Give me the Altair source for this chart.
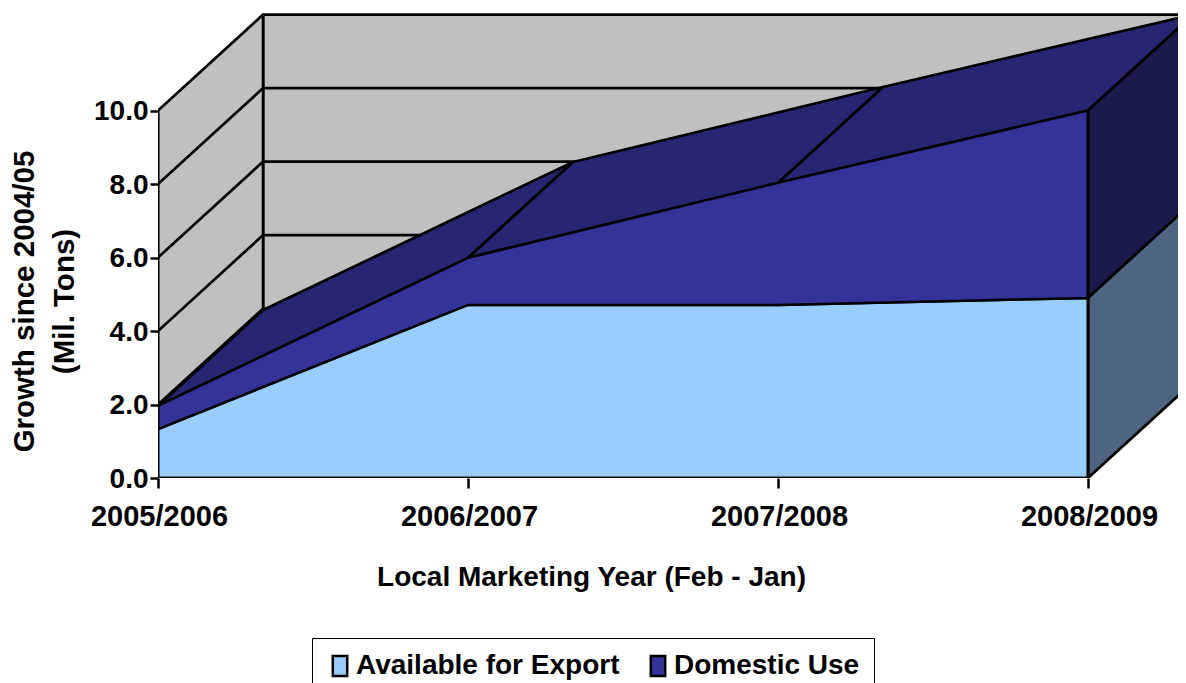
import altair as alt
import pandas as pd

years = ["2005/2006", "2006/2007", "2007/2008", "2008/2009"]
export = [1.33, 4.71, 4.71, 4.90]
total = [1.96, 5.99, 8.03, 10.0]
domestic_label = "Domestic Use"
export_label = "Available for Export"
y_ticks = [0, 2, 4, 6, 8, 10]
DX, DY = 0.339, 2.61
FONT = "Liberation Sans"
FS = 28


def poly(points, fill):
    df = pd.DataFrame(points, columns=["x", "y"]).assign(o=range(len(points)))
    return (
        alt.Chart(df)
        .mark_line(interpolate="linear-closed", fill=fill, stroke="black", strokeWidth=2.7,
                   clip=True, strokeJoin="round")
        .encode(x=alt.X("x:Q", scale=xs), y=alt.Y("y:Q", scale=ys), order="o:Q")
    )


def seg(points, width=2.7):
    df = pd.DataFrame(points, columns=["x", "y"]).assign(o=range(len(points)))
    return (
        alt.Chart(df)
        .mark_line(stroke="black", strokeWidth=width, clip=True)
        .encode(x=alt.X("x:Q", scale=xs), y=alt.Y("y:Q", scale=ys), order="o:Q")
    )


XMAX = 1020 / 310
YMAX = 465 / 36.75
xs = alt.Scale(domain=[0, XMAX], nice=False, zero=False)
ys = alt.Scale(domain=[0, YMAX], nice=False, zero=False)

# front faces (carry the legend and the axes)
front = pd.DataFrame(
    [{"x": i, "s": export_label, "lo": 0, "hi": export[i]} for i in range(4)]
    + [{"x": i, "s": domestic_label, "lo": export[i], "hi": total[i]} for i in range(4)]
)
labels_expr = "{0:'%s',1:'%s',2:'%s',3:'%s'}[datum.value]" % tuple(years)
front_chart = (
    alt.Chart(front)
    .mark_area(stroke="black", strokeWidth=2.5, line=False, clip=True)
    .encode(
        x=alt.X("x:Q", scale=xs, axis=alt.Axis(
            values=[0, 1, 2, 3], labelExpr=labels_expr, domain=False, grid=False,
            tickSize=10, tickWidth=2.5, tickColor="black", labelFont=FONT, labelFontSize=29,
            labelFontWeight="bold", labelColor="black", labelPadding=14, labelFlush=False,
            labelOverlap=False, labelBound=False, labelOffset=1,
            title="Local Marketing Year (Feb - Jan)", titleFont=FONT, titleFontSize=FS,
            titleFontWeight="bold", titleColor="black", titleX=433, titleY=85, titleAnchor="middle", titleAlign="center")),
        y=alt.Y("hi:Q", scale=ys, axis=alt.Axis(
            values=y_ticks, format=".1f", domain=False, grid=False, tickSize=8, tickWidth=2.5,
            tickColor="black", labelFont=FONT, labelFontSize=FS, labelFontWeight="bold",
            labelColor="black", labelPadding=2, labelOverlap=False, labelBound=False, labelOffset=1,
            title=["Growth since 2004/05", "(Mil. Tons)"], titleFont=FONT, titleFontSize=29.5,
            titleFontWeight="bold", titleColor="black", titleX=-119, titleY=288, titleLineHeight=40)),
        y2="lo:Q",
        order=alt.Order("s:N"),
        fill=alt.Fill("s:N", scale=alt.Scale(domain=[export_label, domestic_label], range=["#99CCFF", "#333399"]),
                      legend=alt.Legend(
                          title=None, orient="none", legendX=154, legendY=625, direction="horizontal",
                          columns=2, fillColor="white", strokeColor="black", padding=14,
                          symbolType="M-0.72,-1H0.72V1H-0.72Z", symbolSize=400, symbolStrokeColor="black", symbolStrokeWidth=2.5,
                          labelFont=FONT, labelFontSize=FS, labelFontWeight="bold", labelColor="black",
                          labelOffset=2, columnPadding=24, labelLimit=400)),
    )
)

layers = [front_chart]
# back and side walls
layers.append(poly([(DX, DY), (DX + 3, DY), (DX + 3, DY + 10), (DX, DY + 10)], "#C0C0C0"))
layers.append(poly([(0, 0), (DX, DY), (DX, DY + 10), (0, 10)], "#C0C0C0"))
for v in y_ticks[1:-1]:
    layers.append(seg([(0, v), (DX, v + DY), (DX + 3, v + DY)]))

# top surface of the stack
for i in range(3):
    layers.append(poly([(i, total[i]), (i + 1, total[i + 1]),
                        (i + 1 + DX, total[i + 1] + DY), (i + DX, total[i] + DY)], "#262673"))
# right-hand end faces
layers.append(poly([(3, export[3]), (3 + DX, export[3] + DY), (3 + DX, total[3] + DY), (3, total[3])], "#1A1A4C"))
layers.append(poly([(3, 0), (3 + DX, DY), (3 + DX, export[3] + DY), (3, export[3])], "#4D6580"))

layers.append(front_chart.encode(x=alt.X("x:Q", scale=xs), y=alt.Y("hi:Q", scale=ys),
                                 fill=alt.Fill("s:N", legend=None)))
layers.append(seg([(0, 10), (0, 0), (3, 0), (3, total[3])], 2.7))

chart = (
    alt.layer(*layers)
    .properties(width=1020, height=465, autosize=alt.AutoSizeParams(type="none"),
                padding={"left": 150, "top": 5, "right": 0, "bottom": 205},
                view=alt.ViewBackground(stroke="transparent"))
    .configure_view(stroke="transparent", strokeWidth=0)
    .configure(background="white")
)
chart.save("out.html", embed_options={"renderer": "svg", "actions": False})
